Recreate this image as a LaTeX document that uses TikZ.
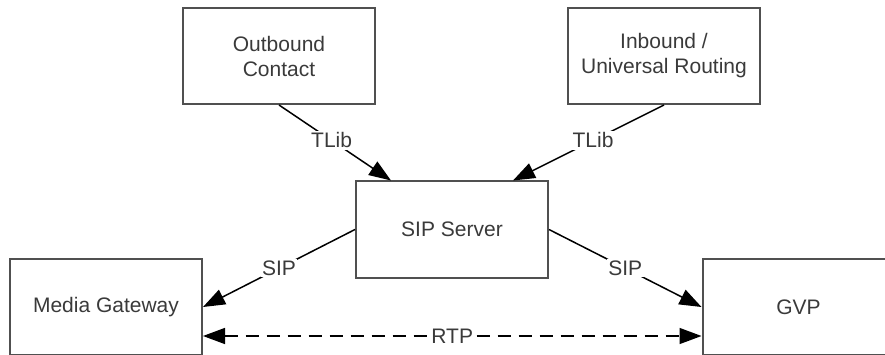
\documentclass[tikz,border=0pt]{standalone}
\usepackage{fontspec}
\setmainfont{Liberation Sans}
\usetikzlibrary{arrows.meta,calc}
\definecolor{boxline}{HTML}{505050}
\definecolor{txt}{HTML}{3A3A3A}
\tikzset{
  box/.style={draw=boxline, line width=2pt, minimum width=192pt, minimum height=96pt,
    inner sep=0pt, align=center, text=txt, font=\fontsize{21}{25}\selectfont},
  tip/.tip={Triangle[length=22pt,width=16pt]},
  conn/.style={draw=black, line width=1.5pt, -tip},
  lbl/.style={fill=white, inner sep=1.5pt, text=txt, font=\fontsize{21}{25}\selectfont}
}
\begin{document}
\begin{tikzpicture}[x=1pt,y=-1pt]
\useasboundingbox (0,0) rectangle (885,355);
\node[box] (oc) at (279,56) {Outbound\\Contact};
\node[box] (ib) at (664,56) {Inbound /\\Universal Routing};
\node[box] (sip) at (452,229.5) {SIP Server};
\node[box] (mg) at (106,307) {Media Gateway};
\node[box] (gvp) at (798.5,307) {GVP};
\draw[conn] (oc.south) -- node[lbl, pos=0.47] {TLib} ($(sip.north west)+(36,0)$);
\draw[conn] (ib.south) -- node[lbl, pos=0.47] {TLib} ($(sip.north east)+(-36,0)$);
\draw[conn] (sip.west) -- node[lbl] {SIP} (mg.east);
\draw[conn] (sip.east) -- node[lbl] {SIP} (gvp.west);
\draw[conn, tip-tip, dash pattern=on 13pt off 8pt]
  ($(mg.east)+(0,29)$) -- node[lbl, inner sep=1pt] {RTP} ($(gvp.west)+(0,29)$);
\end{tikzpicture}
\end{document}
